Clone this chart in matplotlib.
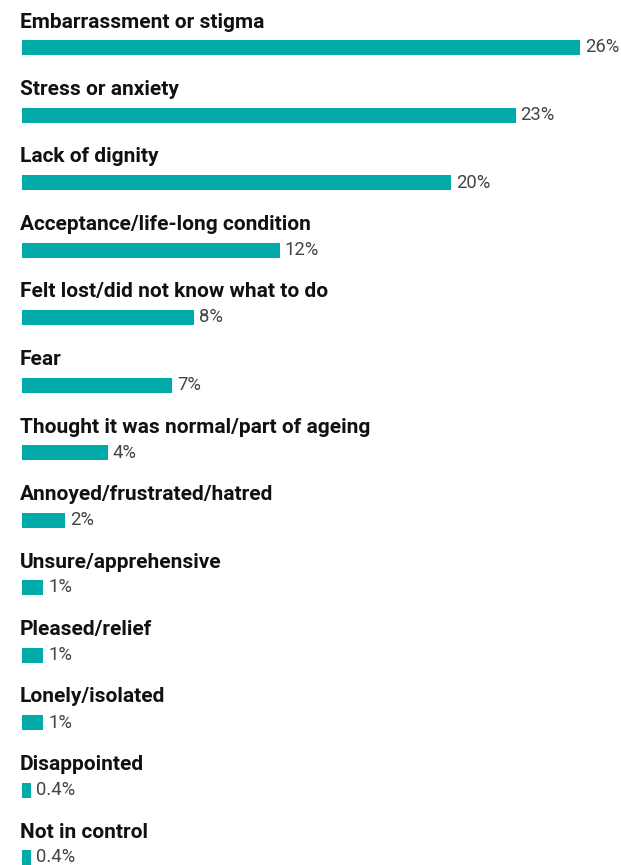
import matplotlib
matplotlib.use("Agg")
import matplotlib.pyplot as plt

categories = [
    "Embarrassment or stigma",
    "Stress or anxiety",
    "Lack of dignity",
    "Acceptance/life-long condition",
    "Felt lost/did not know what to do",
    "Fear",
    "Thought it was normal/part of ageing",
    "Annoyed/frustrated/hatred",
    "Unsure/apprehensive",
    "Pleased/relief",
    "Lonely/isolated",
    "Disappointed",
    "Not in control",
]
values = [26, 23, 20, 12, 8, 7, 4, 2, 1, 1, 1, 0.4, 0.4]
value_labels = ["26%", "23%", "20%", "12%", "8%", "7%", "4%", "2%", "1%", "1%", "1%", "0.4%", "0.4%"]

BAR_COLOR = "#00aaa6"
W, H, DPI = 621, 865, 100

fig = plt.figure(figsize=(W / DPI, H / DPI), dpi=DPI)
left_px = 22
px_per_unit_x = 558 / 26.0
row_px = 67.5
first_bar_px = 47.5

ax = fig.add_axes([left_px / W, 0, 1 - left_px / W, 1])
ax.set_xlim(0, (W - left_px) / px_per_unit_x)
ax.set_ylim((H - first_bar_px) / row_px, -first_bar_px / row_px)
ax.axis("off")

ys = list(range(len(categories)))
ax.barh(ys, values, height=15 / row_px, color=BAR_COLOR, linewidth=0)

for y, cat, v, lab in zip(ys, categories, values, value_labels):
    ax.text(-2 / px_per_unit_x, y - 20 / row_px, cat, family="Roboto",
            fontweight="bold", fontsize=15, color="#111111",
            ha="left", va="baseline")
    ax.text(v + 5 / px_per_unit_x, y, lab, family="Roboto",
            fontweight="normal", fontsize=13.3, color="#444444",
            ha="left", va="center")

fig.savefig("out.png", dpi=DPI)
